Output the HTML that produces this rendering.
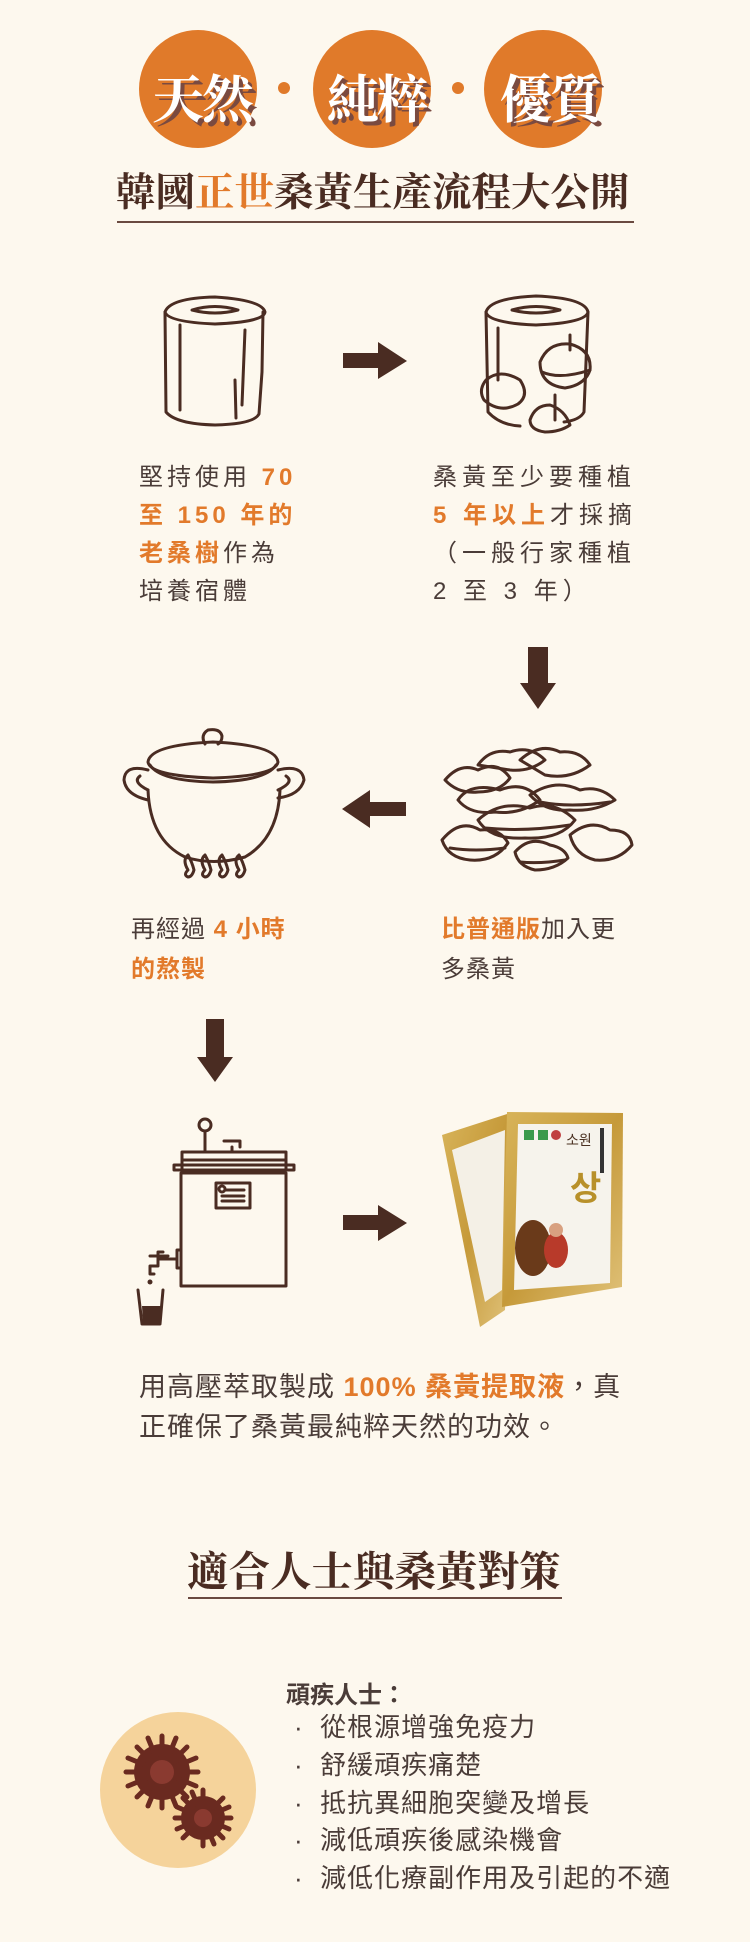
<!DOCTYPE html>
<html><head><meta charset="utf-8">
<style>
html,body{margin:0;padding:0;}
body{width:750px;height:1942px;background:#fdf8ee;position:relative;overflow:hidden;font-family:"Liberation Sans","Noto Sans CJK TC",sans-serif;color:#4a3c38;}
.t{position:absolute;white-space:nowrap;}
.o{color:#e27a2b;font-weight:bold;}
.serif{font-family:"Liberation Serif","Noto Serif CJK SC",serif;font-weight:bold;}
.body{font-size:24px;letter-spacing:5px;line-height:38px;}
svg{position:absolute;left:0;top:0;}
</style></head><body>
<svg width="750" height="1942" viewBox="0 0 750 1942">
<g fill="#e07a2a">
<circle cx="198" cy="89" r="59"/><circle cx="372" cy="89" r="59"/><circle cx="543" cy="89" r="59"/>
<circle cx="284" cy="88" r="6"/><circle cx="458" cy="88" r="6"/>
</g>
<line x1="117" y1="222" x2="634" y2="222" stroke="#6a4a40" stroke-width="2"/>
<line x1="188" y1="1598" x2="562" y2="1598" stroke="#6a4a40" stroke-width="2"/>
<g fill="none" stroke="#4a2c22" stroke-width="3" stroke-linecap="round" stroke-linejoin="round">
<path d="M165 312 Q170 298 215 297 Q262 300 265 312 Q264 322 215 324 Q168 322 165 312Z"/>
<path d="M192 310 Q215 303 238 310 Q215 316 192 310Z"/>
<path d="M165 312 L166 412 Q176 424 215 425 Q254 424 259 414 L262 372 L263 312"/>
<path d="M180 325 L180 410 M245 330 L242 405 M235 380 L236 418"/>
<path d="M486 312 Q490 298 536 296 Q585 298 588 312 Q586 323 536 325 Q488 323 486 312Z"/>
<path d="M512 310 Q536 303 560 310 Q536 316 512 310Z"/>
<path d="M486 312 L488 412 Q500 425 520 426 M564 422 Q580 420 584 412 L588 312"/>
<path d="M498 328 L498 380 M570 335 L570 350 M555 395 L555 420"/>
<path d="M486 380 Q500 368 520 380 Q530 395 518 404 Q500 414 484 400 Q478 390 486 380Z"/>
<path d="M540 362 Q548 342 570 344 Q592 350 590 370 Q585 385 565 388 Q540 385 540 362Z"/>
<path d="M542 372 Q560 380 590 370"/>
<path d="M530 420 Q535 405 550 405 Q565 410 570 425 Q560 432 545 432 Q530 430 530 420Z"/>
<path d="M148 762 Q150 745 213 742 Q276 745 278 762 Q276 776 213 778 Q150 776 148 762Z"/>
<path d="M150 765 Q160 781 213 782 Q266 781 276 765"/>
<path d="M205 744 Q200 735 208 730 Q220 728 222 736 Q222 742 218 744"/>
<path d="M148 770 Q125 764 124 780 Q126 795 148 800"/>
<path d="M140 776 Q132 782 148 790"/>
<path d="M278 770 Q302 764 304 780 Q300 795 278 798"/>
<path d="M286 776 Q295 782 278 790"/>
<path d="M148 790 Q150 840 185 857 Q213 866 245 857 Q278 838 280 790"/>
<path d="M188 870 Q182 860 188 855 Q192 862 194 870 Q192 877 188 877 Q183 875 188 870Z M205 870 Q199 860 205 855 Q209 862 211 870 Q209 877 205 877 Q200 875 205 870Z M222 870 Q216 860 222 855 Q226 862 228 870 Q226 877 222 877 Q217 875 222 870Z M239 870 Q233 860 239 855 Q243 862 245 870 Q243 877 239 877 Q234 875 239 870Z"/>
<path d="M445 780 Q460 762 478 770 Q498 760 510 778 Q500 792 478 792 Q458 794 445 780Z"/>
<path d="M478 765 Q490 748 510 752 Q530 745 545 760 Q530 772 510 770Z"/>
<path d="M520 760 Q540 742 560 752 Q580 750 590 765 Q570 780 545 775Z"/>
<path d="M458 800 Q470 782 500 790 Q525 780 540 800 Q520 815 495 812 Q470 815 458 800Z"/>
<path d="M530 795 Q555 778 580 790 Q600 785 615 800 Q595 812 570 810 Q545 812 530 795Z"/>
<path d="M478 820 Q500 800 530 808 Q555 800 575 820 Q560 840 525 838 Q490 840 478 820Z"/>
<path d="M442 840 Q460 818 480 830 Q500 828 508 843 Q495 862 470 860 Q448 858 442 840Z"/>
<path d="M570 835 Q590 818 610 830 Q630 830 632 845 Q618 862 595 860 Q575 855 570 835Z"/>
<path d="M515 852 Q530 835 550 845 Q565 848 568 858 Q555 870 535 870 Q518 866 515 852Z"/>
<path d="M450 848 Q475 852 505 848 M485 828 Q525 832 570 825 M540 802 Q570 808 610 802 M520 862 Q540 864 565 860"/>
<circle cx="205" cy="1125" r="6"/><path d="M205 1131 L205 1150"/>
<path d="M224 1141 L240 1141 L240 1147 M232 1147 L232 1152"/>
<path d="M182 1152 L286 1152 L286 1160 L182 1160Z"/>
<path d="M174 1165 L294 1165 L294 1170 L174 1170Z"/>
<path d="M182 1160 L182 1170 M286 1160 L286 1170"/>
<path d="M181 1173 L286 1173 L286 1286 L181 1286Z"/>
<path d="M216 1183 L250 1183 L250 1208 L216 1208Z M222 1196 L244 1196 M222 1201 L244 1201 M226 1190 L244 1190"/>
<circle cx="222" cy="1189" r="3"/>
<path d="M181 1250 L177 1250 L177 1268 L181 1268 M177 1259 L160 1259 M163 1252 L158 1252 L158 1266 L150 1266 L150 1274 L154 1274 M150 1256 L168 1256"/>
<path d="M138 1290 L142 1324 L160 1324 L163 1290"/>
</g>
<path d="M142 1306 L161 1306 L159 1324 L143 1324Z" fill="#4a2c22"/>
<circle cx="150" cy="1282" r="2.5" fill="#4a2c22"/>
<g fill="#4a2c22">
<path d="M343 353 L378 353 L378 342 L407 361 L378 379 L378 368 L343 368Z"/>
<path d="M528 647 L548 647 L548 683 L556 683 L538 709 L520 683 L528 683Z"/>
<path d="M406 802 L370 802 L370 790 L342 809 L370 828 L370 816 L406 816Z"/>
<path d="M206 1019 L224 1019 L224 1057 L233 1057 L215 1082 L197 1057 L206 1057Z"/>
<path d="M343 1215 L378 1215 L378 1205 L407 1223 L378 1241 L378 1230 L343 1230Z"/>
</g>
<defs><linearGradient id="g" x1="0" y1="0" x2="1" y2="1"><stop offset="0" stop-color="#d8b45a"/><stop offset="0.5" stop-color="#c69a3a"/><stop offset="1" stop-color="#e0c27a"/></linearGradient></defs>
<path d="M442 1135 L510 1113 L505 1310 L480 1327 Z" fill="url(#g)"/>
<path d="M452 1150 L505 1130 L502 1290 L485 1302 Z" fill="#f4f0e6"/>
<path d="M507 1112 L623 1113 L622 1287 L502 1307 Z" fill="url(#g)"/>
<path d="M518 1124 L612 1124 L610 1283 L514 1290 Z" fill="#f6f3ec"/>
<ellipse cx="533" cy="1248" rx="18" ry="28" fill="#6a3a1a"/>
<ellipse cx="556" cy="1250" rx="12" ry="18" fill="#b83a2a"/>
<circle cx="556" cy="1230" r="7" fill="#d8a080"/>
<text x="570" y="1200" font-size="34" fill="#b8902a" font-family="Noto Sans CJK KR,sans-serif" font-weight="bold">상</text>
<text x="566" y="1145" font-size="14" fill="#4a3020" font-family="Noto Sans CJK KR,sans-serif">소원</text>
<rect x="524" y="1130" width="10" height="10" fill="#3a9a4a"/><rect x="538" y="1130" width="10" height="10" fill="#3a9a4a"/><circle cx="556" cy="1135" r="5" fill="#c04040"/>
<rect x="600" y="1128" width="4" height="45" fill="#333"/>
<ellipse cx="178" cy="1790" rx="78" ry="78" fill="#f5d39b"/>
<g fill="#6a2a20">
<circle cx="162" cy="1772" r="28"/>
<circle cx="203" cy="1818" r="22"/>
</g>
<g stroke="#6a2a20" stroke-width="5" stroke-linecap="round">
<path d="M162 1736 L162 1808 M126 1772 L198 1772 M137 1747 L187 1797 M137 1797 L187 1747 M148 1738 L176 1806 M128 1758 L196 1786 M128 1786 L196 1758 M148 1806 L176 1738"/>
<path d="M203 1790 L203 1846 M175 1818 L231 1818 M183 1798 L223 1838 M183 1838 L223 1798 M192 1792 L214 1844 M177 1807 L229 1829 M177 1829 L229 1807"/>
</g>
<circle cx="162" cy="1772" r="12" fill="#8a3a30"/><circle cx="203" cy="1818" r="9" fill="#8a3a30"/>
</svg>

<div class="t serif" style="left:152px;top:58px;font-size:52px;color:#fff;text-shadow:4px 4px 0 #7a4a40;letter-spacing:-2px;">天然</div>
<div class="t serif" style="left:327px;top:58px;font-size:52px;color:#fff;text-shadow:4px 4px 0 #7a4a40;letter-spacing:-2px;">純粹</div>
<div class="t serif" style="left:500px;top:58px;font-size:52px;color:#fff;text-shadow:4px 4px 0 #7a4a40;letter-spacing:-2px;">優質</div>

<div class="t serif" style="left:116px;top:168px;font-size:39.5px;color:#4a2c22;line-height:50px;">韓國<span style="color:#e27a2b">正世</span>桑黃生產流程大公開</div>

<div class="t body" style="left:139px;top:459px;letter-spacing:4px;">堅持使用 <span class="o">70</span><br><span class="o">至 150 年的</span><br><span class="o">老桑樹</span>作為<br>培養宿體</div>
<div class="t body" style="left:433px;top:459px;">桑黃至少要種植<br><span class="o">5 年以上</span>才採摘<br>（一般行家種植<br>2 至 3 年）</div>

<div class="t" style="left:131px;top:910px;font-size:24px;line-height:40px;letter-spacing:1px;">再經過 <span class="o">4 小時</span><br><span class="o">的熬製</span></div>
<div class="t" style="left:441px;top:910px;font-size:24px;line-height:40px;letter-spacing:1px;"><span class="o">比普通版</span>加入更<br>多桑黃</div>

<div class="t" style="left:139px;top:1367px;font-size:27px;line-height:40px;letter-spacing:1px;">用高壓萃取製成 <span class="o">100% 桑黃提取液</span>，真<br>正確保了桑黃最純粹天然的功效。</div>

<div class="t serif" style="left:187px;top:1547px;font-size:41.5px;color:#4a2c22;line-height:50px;">適合人士與桑黃對策</div>

<div class="t" style="left:286px;top:1675px;font-size:24px;font-weight:bold;color:#4a3c38;">頑疾人士：</div>
<div class="t" style="left:294px;top:1709px;font-size:26px;line-height:37.8px;letter-spacing:1px;">
<div>·&nbsp;&nbsp;從根源增強免疫力</div>
<div>·&nbsp;&nbsp;舒緩頑疾痛楚</div>
<div>·&nbsp;&nbsp;抵抗異細胞突變及增長</div>
<div>·&nbsp;&nbsp;減低頑疾後感染機會</div>
<div>·&nbsp;&nbsp;減低化療副作用及引起的不適</div>
</div>
</body></html>
